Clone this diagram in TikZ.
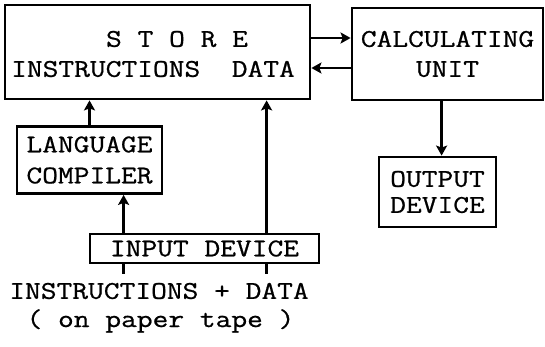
\documentclass[tikz,border=0pt]{standalone}
\usepackage{fontspec}
\setmonofont{Latin Modern Mono}[FakeStretch=1.2, FakeBold=0.8]
\usetikzlibrary{arrows.meta}
\tikzset{
  box/.style={draw, line width=2.8pt, inner sep=0pt, align=center},
  lbl/.style={inner sep=0pt, font=\ttfamily\fontsize{25.5}{30}\selectfont},
  conn/.style={line width=2.6pt},
  arr/.style={conn, -{Stealth[length=10pt,width=11pt,inset=2pt]}},
}
\begin{document}
\begin{tikzpicture}[x=1pt,y=-1pt]
  \useasboundingbox (0,0) rectangle (545,347);
  % boxes
  \node[box, minimum width=305pt, minimum height=94pt] (store) at (157.5,52) {};
  \node[lbl] (storetitle) at (177,39) {S T O R E};
  \node[lbl] (storeparts) at (153,69) {INSTRUCTIONS~~DATA};
  \node[box, lbl, minimum width=191pt, minimum height=92pt] (calc) at (447.5,54)
    {CALCULATING\\UNIT};
  \node[box, lbl, minimum width=145pt, minimum height=67pt,
        font=\ttfamily\fontsize{25.5}{31}\selectfont] (comp) at (89.5,160)
    {LANGUAGE\\COMPILER};
  \node[box, lbl, minimum width=117pt, minimum height=70pt,
        font=\ttfamily\fontsize{25.5}{26}\selectfont] (out) at (437.5,192)
    {OUTPUT\\DEVICE};
  \node[box, lbl, minimum width=229pt, minimum height=29pt] (in) at (204.5,248.5)
    {INPUT DEVICE};
  \node[lbl] (tape) at (159,291) {INSTRUCTIONS + DATA};
  \node[lbl] (tapenote) at (160.5,321) {( on paper tape )};
  % connectors
  \draw[arr] ([yshift=14pt]store.east) -- ([yshift=14pt]store.east -| calc.west);
  \draw[arr] ([yshift=-14pt]calc.west) -- ([yshift=-14pt]calc.west -| store.east);
  \draw[arr] (comp.north) -- (comp.north |- store.south);
  \draw[arr] ([xshift=35pt]in.north west) -- ([xshift=35pt]in.north west |- comp.south);
  \draw[arr] ([xshift=178pt]in.north west) -- ([xshift=178pt]in.north west |- store.south);
  \draw[arr] ([xshift=91pt]calc.south west) -- ([xshift=91pt]calc.south west |- out.north);
  % feed lines from the tape
  \coordinate (feedA) at ([xshift=35pt,yshift=-10pt]in.south west);
  \coordinate (feedB) at ([xshift=178pt,yshift=-10pt]in.south west);
  \draw[conn] ([xshift=35pt]in.south west) -- (feedA);
  \draw[conn] ([xshift=178pt]in.south west) -- (feedB);
\end{tikzpicture}
\end{document}
